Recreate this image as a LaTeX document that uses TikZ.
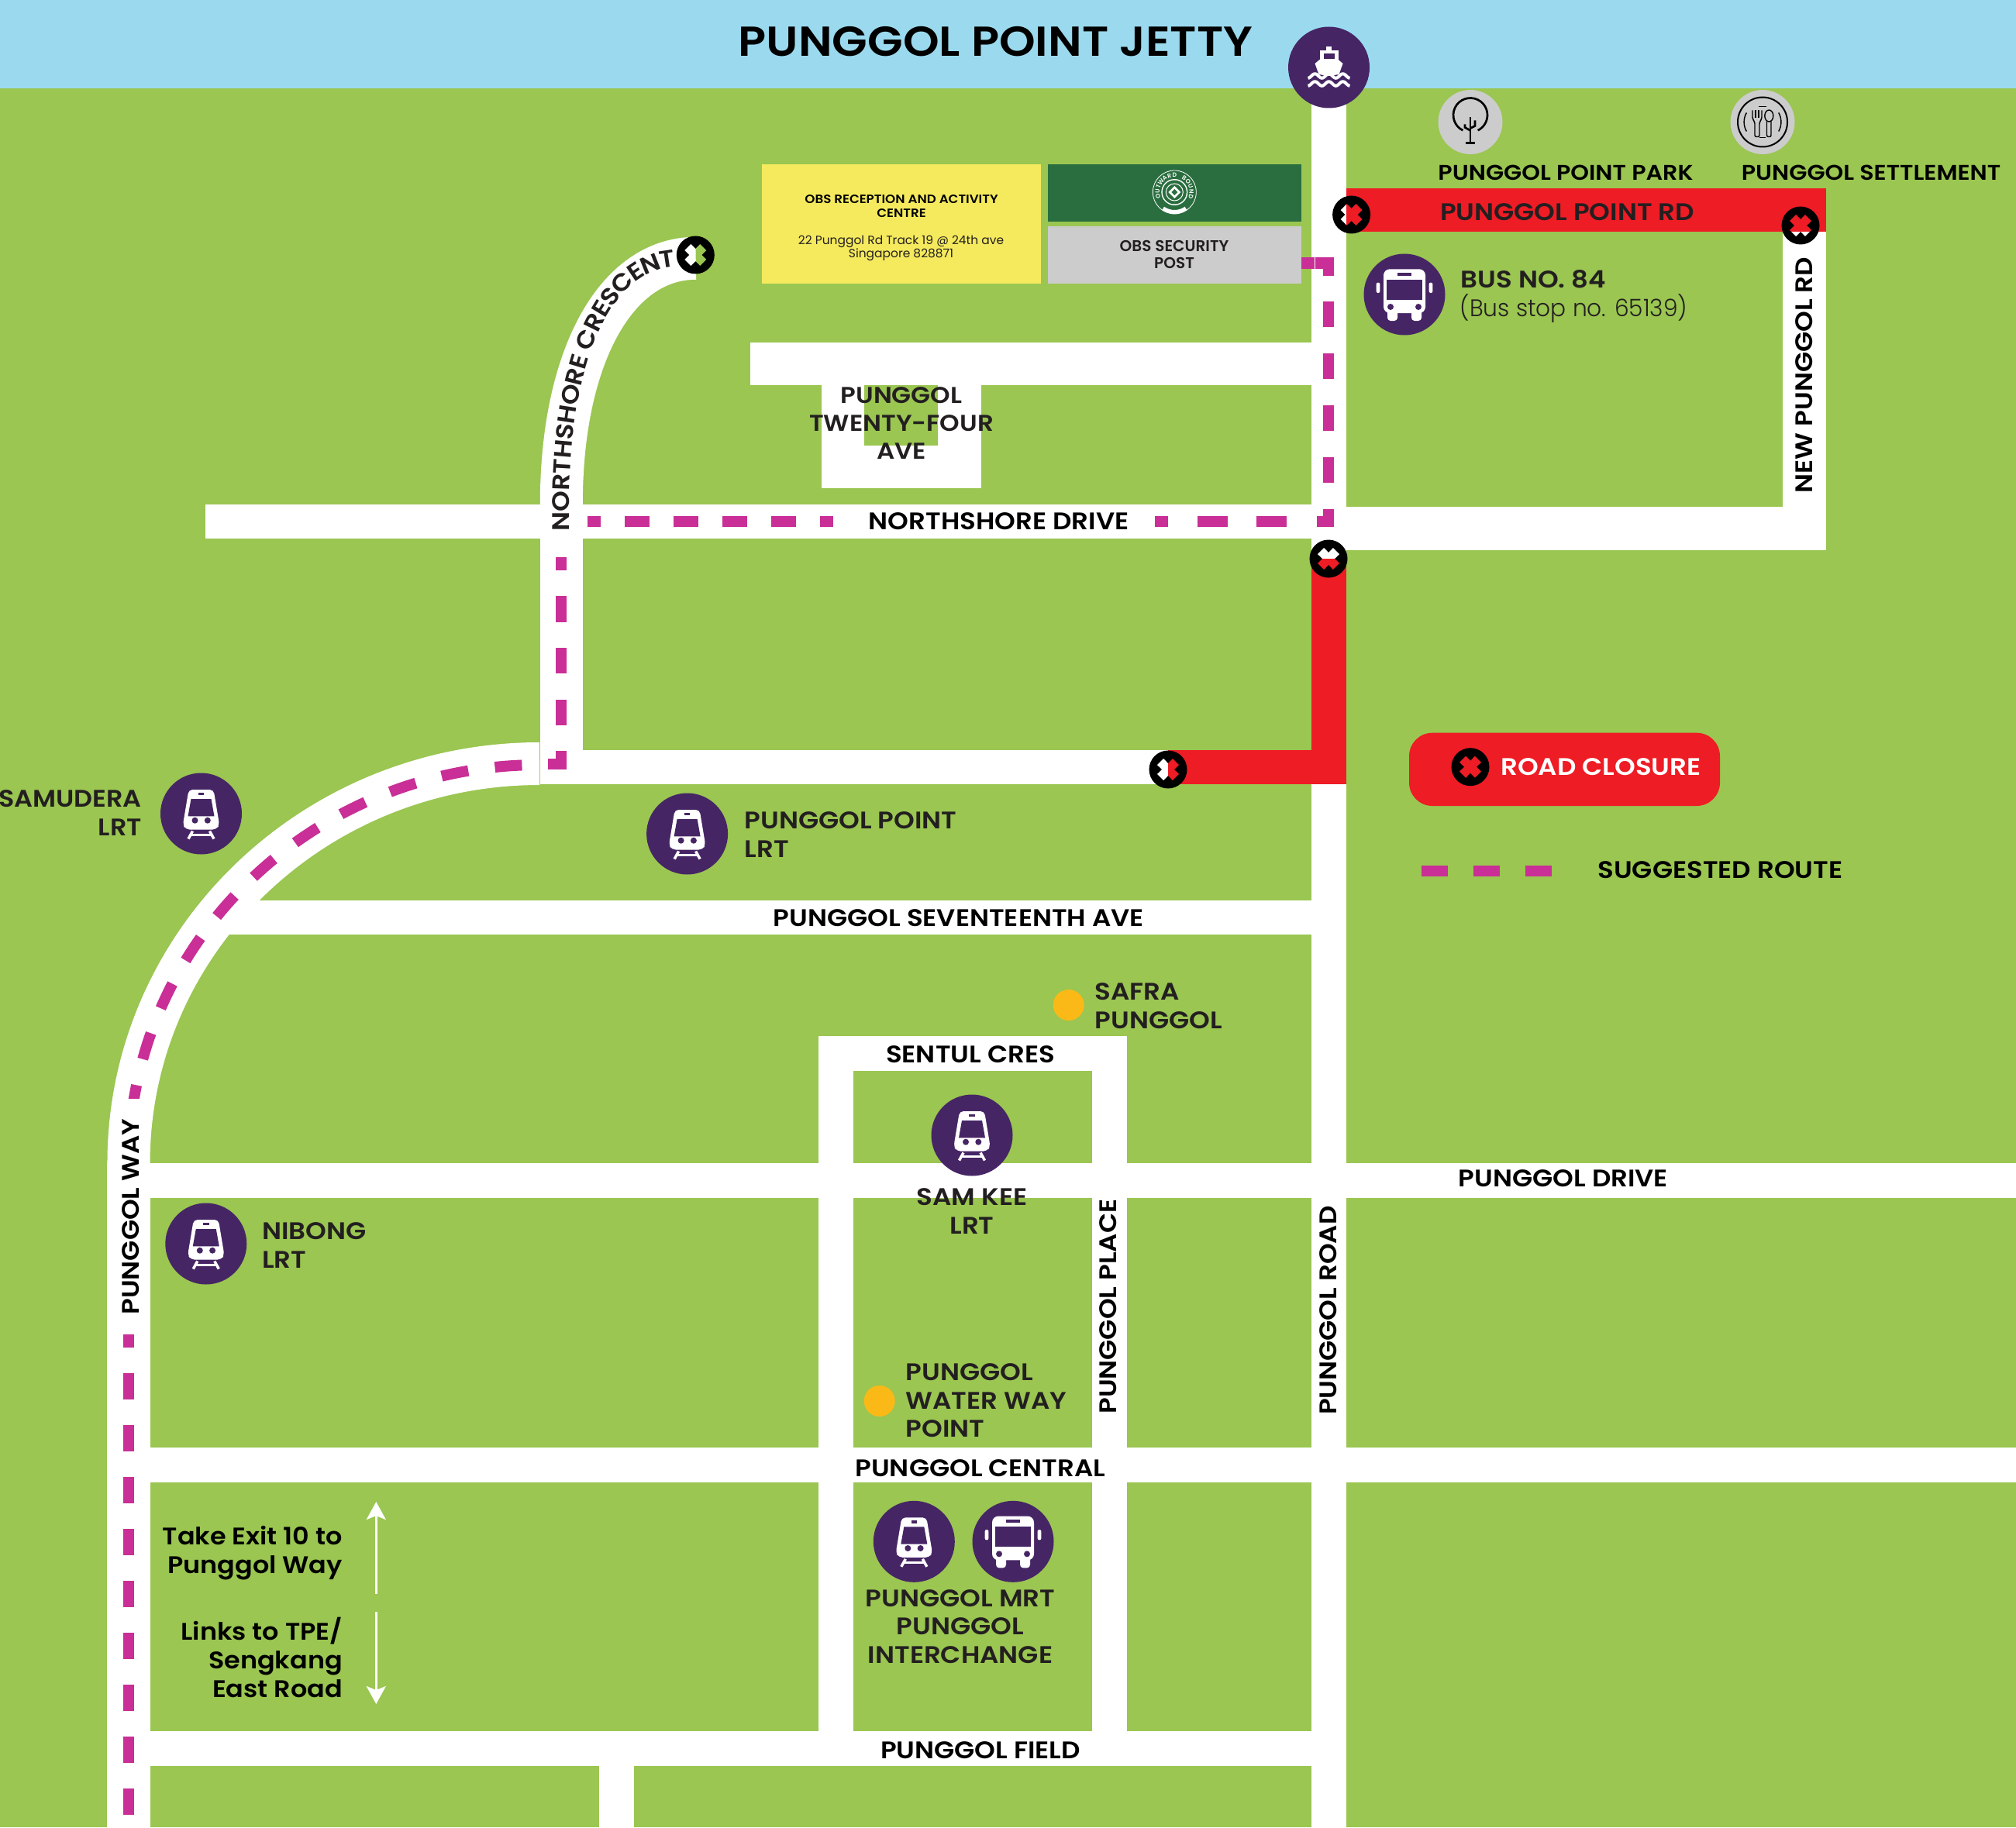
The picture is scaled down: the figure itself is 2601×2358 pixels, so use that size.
\documentclass[tikz,border=0pt]{standalone}
\usepackage{fontspec}
\setmainfont[BoldFont={Poppins SemiBold}]{Poppins}
\newfontfamily\widefont[FakeStretch=1.10,BoldFont={Poppins SemiBold}]{Poppins}
\newfontfamily\guidefont[FakeStretch=1.08,BoldFont={Poppins SemiBold}]{Poppins}
\newfontfamily\thinfont[FakeStretch=.96]{Poppins Light}
\usetikzlibrary{arrows.meta,decorations.text}

\definecolor{skyblue}{HTML}{9BDAEE}
\definecolor{mapgreen}{HTML}{9AC651}
\definecolor{closedred}{HTML}{EE1C25}
\definecolor{stopviolet}{HTML}{462565}
\definecolor{routepink}{HTML}{C92F96}
\definecolor{inkdark}{HTML}{231F20}
\definecolor{notegrey}{HTML}{CCCCCC}
\definecolor{obsgreen}{HTML}{2A6E3F}
\definecolor{obsyellow}{HTML}{F5EA5D}
\definecolor{dotamber}{HTML}{FBB917}

\newcommand{\capsfont}{\widefont\fontsize{8.8}{10.4}\selectfont\bfseries}
\newcommand{\parkfont}{\widefont\fontsize{7.8}{9}\selectfont\bfseries}

\tikzset{
  road/.style={fill=white},
  route/.style={draw=routepink,line width=.14cm},
  roadname/.style={font=\capsfont,text=black,inner sep=0pt,align=center},
  placename/.style={font=\capsfont,text=inkdark,inner sep=0pt},
  guidetext/.style={font=\guidefont\fontsize{8.8}{10.4}\selectfont\bfseries,text=black,inner sep=0pt,align=right,anchor=east},
  guidearrow/.style={->,white,line width=.03cm,>={Stealth[length=.23cm,width=.25cm,inset=.05cm]}}
}

% black disc, the cross is a hole in it
\newcommand{\closure}[2]{
  \begin{scope}[shift={(#1,#2)}]
    \fill[black,even odd rule] (0,0) circle (24.5)
      (0,-8.2)--(5.9,-14.2)--(14.2,-5.9)--(8.2,0)--(14.2,5.9)--(5.9,14.2)--(0,8.2)
      --(-5.9,14.2)--(-14.2,5.9)--(-8.2,0)--(-14.2,-5.9)--(-5.9,-14.2)--cycle;
  \end{scope}
}

\newcommand{\lrtstop}[2]{
  \begin{scope}[shift={(#1,#2)}]
    \fill[stopviolet] (0,0) circle (52.5);
    \fill[white,rounded corners=.05cm] (-16,-31)--(16,-31)--(23.5,14)--(20,20.5)--(-20,20.5)--(-23.5,14)--cycle;
    \fill[stopviolet] (-13,-19)--(13,-19)--(17,3.3)--(-17,3.3)--cycle;
    \fill[stopviolet] (-3.8,-27) rectangle (3.8,-23.7);
    \fill[stopviolet] (-8,8.7) circle (4) (8.3,8.7) circle (4);
    \draw[white,line width=.035cm] (-11,22.5)--(-16.5,32.5) (11,22.5)--(16.5,32.5);
    \draw[white,line width=.03cm] (-13.5,27.5)--(13.5,27.5);
  \end{scope}
}

\newcommand{\busstop}[2]{
  \begin{scope}[shift={(#1,#2)}]
    \fill[stopviolet] (0,0) circle (52.5);
    \fill[white,rounded corners=.08cm] (-27,-32.7) rectangle (27,24);
    \fill[white,rounded corners=.04cm] (-22,15) rectangle (-9,34) (9,15) rectangle (22,34);
    \fill[white,rounded corners=.02cm] (-36.3,-15.3) rectangle (-31.7,-2) (31.7,-15.3) rectangle (36.3,-2);
    \fill[stopviolet] (-22.7,-19.3) rectangle (22.7,6.7);
    \fill[stopviolet] (-8.7,-28.3) rectangle (8.7,-24.3);
    \fill[stopviolet] (-18,16) circle (4) (18,16) circle (4);
  \end{scope}
}

\begin{document}
\begin{tikzpicture}[x=.01cm,y=-.01cm]

  \useasboundingbox (0,0) rectangle (2601,2358);
  \fill[mapgreen] (0,0) rectangle (2601,2358);
  \fill[skyblue] (0,0) rectangle (2601,114);

  % roads
  \fill[road] (1692,114) rectangle (1737,2358);
  \fill[road] (968,441.5) rectangle (1692,497);
  \fill[road] (1060,441.5) rectangle (1266,630);
  \fill[mapgreen] (1115,497) rectangle (1210,575);
  \fill[road] (265,651) rectangle (1692,695);
  \fill[road] (1737,654) rectangle (2356,710);
  \fill[road] (2300,299) rectangle (2356,710);
  \fill[road] (696.7,650) rectangle (752,1012);
  \fill[road] (696.7,967.5) rectangle (1507,1012);
  \fill[road] (280,1162) rectangle (1692,1206);
  \fill[road] (166,1501) rectangle (2601,1545.5);
  \fill[road] (166,1868) rectangle (2601,1913);
  \fill[road] (166,2234) rectangle (1692,2279);
  \fill[road] (1056,1337) rectangle (1454,1382);
  \fill[road] (1056,1337) rectangle (1101,2279);
  \fill[road] (1408.7,1337) rectangle (1454,2279);
  \fill[road] (773,2279) rectangle (818,2358);
  \fill[road] (138,1501) rectangle (193.5,2358);
  \draw[white,line width=.55cm] (166,1501) arc[start angle=180,end angle=270,x radius=530,y radius=515.5];
  \draw[white,line width=.55cm] (724.3,650) .. controls (724.3,463.3) and (793.3,333.3) .. (897.7,333.3);

  % closed parts
  \fill[closedred] (1737,243) rectangle (2356,299);
  \fill[closedred] (1692,721) rectangle (1737,1012);
  \fill[closedred] (1507,967.5) rectangle (1737,1012);

  % suggested route
  \draw[route] (1678.6,339.5)--(1696,339.5);
  \draw[route] (1697.4,339.5)--(1714.4,339.5)--(1714.4,356);
  \foreach \y in {389,456,522.5,590}
  {
    \draw[route] (1714.4,\y)--(1714.4,\y+33.3);
  }
  \draw[route] (1714.4,656.6)--(1714.4,673)--(1698.5,673);
  \foreach \x in {1545,1621}
  {
    \draw[route] (\x,673)--(\x+39,673);
  }
  \draw[route] (1490,673)--(1507,673);
  \foreach \x in {806.3,869.3,932.3,995}
  {
    \draw[route] (\x,673)--(\x+32,673);
  }
  \draw[route] (758,673)--(775,673);
  \draw[route] (1058.3,673)--(1075,673);
  \draw[route] (724.3,719.3)--(724.3,736);
  \foreach \y in {769.3,836,902.7}
  {
    \draw[route] (724.3,\y)--(724.3,\y+33.3);
  }
  \draw[route] (724.3,969.3)--(724.3,985.7)--(707.3,985.7);
  \begin{scope}
    \clip (0,0) rectangle (2601,1417);
    \draw[route,dash pattern=on .35cm off .346cm,dash phase=.47cm] (696,987) .. controls (403.3,987) and (166,1216.3) .. (166,1501);
  \end{scope}
  \draw[route] (166,1722)--(166,1739);
  \foreach \y in {1772,1839,...,2308}
  {
    \draw[route] (166,\y)--(166,\y+33.5);
  }

  % title and jetty
  \node[font=\widefont\fontsize{15.35}{16}\selectfont\bfseries,text=black,inner sep=0pt] (jettytitle) at (1284.5,54) {PUNGGOL POINT JETTY};
  \begin{scope}[shift={(1714.5,87)}]
    \fill[stopviolet] (0,0) circle (52.5);
    \fill[white] (-3.5,-27) rectangle (3.5,-21);
    \fill[white] (-12,-22) rectangle (12,-8);
    \fill[stopviolet] (-7,-17.5) rectangle (7,-11);
    \fill[white] (-18,-5)--(-12,-10)--(12,-10)--(18,-5)--(13,9)--(0,11)--(-13,9)--cycle;
    \foreach \w in {11,21}
    {
      \draw[white,line width=.04cm] plot[domain=-27:27,samples=40,smooth] (\x,{\w+2.8*cos(\x*20+180)});
    }
  \end{scope}

  % buildings
  \fill[obsyellow] (983,211.6) rectangle (1343,366.4);
  \fill[obsgreen] (1352,211.6) rectangle (1678.6,286);
  \fill[notegrey] (1352,292) rectangle (1678.6,366.4);
  \node[font=\guidefont\fontsize{4.4}{5.1}\selectfont\bfseries,text=black,inner sep=0pt,align=center] (obsreception) at (1163,266.5) {OBS RECEPTION AND ACTIVITY\\CENTRE};
  \node[font=\fontsize{4.4}{5}\selectfont,text=inkdark,inner sep=0pt,align=center] (obsaddress) at (1162.5,320.5) {22 Punggol Rd Track 19 @ 24th ave\\Singapore 828871};
  \node[font=\fontsize{5.7}{6.3}\selectfont\bfseries,text=inkdark,inner sep=0pt,align=center] (obssecurity) at (1515,328.5) {OBS SECURITY\\POST};

  \begin{scope}[shift={(1515.3,248)}]
    \fill[white] (0,0) circle (17);
    \draw[white,line width=.05cm] (125:25.5) arc[start angle=125,end angle=55,radius=25.5];
    \draw[white,line width=.008cm] (0,0) circle (28);
    \fill[obsgreen] (0,0) circle (15.5);
    \draw[white,line width=.01cm] (0,0) circle (11);
    \fill[white] (-8,0)--(0,-8)--(8,0)--(0,8)--cycle;
    \fill[obsgreen] (-4,0)--(0,-4)--(4,0)--(0,4)--cycle;
    \foreach \c [count=\i] in {O,U,T,W,A,R,D,{ },B,O,U,N,D}
    {
      \node[font=\fontsize{2.2}{3}\selectfont\bfseries,text=white,inner sep=0pt,rotate={270-(165+(\i-1)*17.5)}] (logoletter\i) at ({165+(\i-1)*17.5}:22) {\c};
    }
  \end{scope}

  % places at the top
  \fill[notegrey] (1897,157.5) circle (41.5);
  \begin{scope}[shift={(1897,157.5)},black,line width=.027cm]
    \draw (116:22) ++(0,-9) arc[start angle=116,end angle=424,radius=22];
    \draw (0,-6)--(0,26.7) (-6,26.7)--(6,26.7);
    \draw (-7,3)--(-7,7)--(0,11) (6,-2)--(6,5)--(0,8);
  \end{scope}
  \fill[notegrey] (2274,157.5) circle (41.5);
  \begin{scope}[shift={(2274,157.5)},black,line width=.014cm]
    \draw[line width=.02cm] (0,0) circle (32);
    \draw (20.7,-12) arc[start angle=-30,end angle=30,radius=24];
    \draw (-20.7,-12) arc[start angle=210,end angle=150,radius=24];
    \draw (-5,-20)--(5,-20) (-4,20)--(4,20);
    \draw[rounded corners=.02cm] (-13,-15)--(-13,-4)--(-10,0)--(-10,19)--(-4,19)--(-4,0)--(-1,-4)--(-1,-15);
    \draw (-9,-15)--(-9,-5) (-5,-15)--(-5,-5);
    \draw (8.3,-8) ellipse (5.5 and 7.5);
    \draw[rounded corners=.02cm] (5.5,-1)--(5.5,19)--(11,19)--(11,-1);
  \end{scope}
  \node[font=\parkfont,text=black,inner sep=0pt] (parkname) at (2020,223) {PUNGGOL POINT PARK};
  \node[font=\parkfont,text=black,inner sep=0pt] (settlementname) at (2414,222.7) {PUNGGOL SETTLEMENT};
  \node[placename] (pointrdname) at (2022,274) {PUNGGOL POINT RD};

  \busstop{1812}{380}
  \node[placename,anchor=west] (busname) at (1884,360.5) {BUS NO. 84};
  \node[font=\thinfont\fontsize{8.8}{10}\selectfont,text=inkdark,inner sep=0pt,anchor=west] (bussign) at (1883,398.5) {(Bus stop no. 65139)};

  % road names
  \node[roadname,rotate=90] (newpunggolname) at (2327.7,484) {NEW PUNGGOL RD};
  \node[placename,font=\widefont\fontsize{8.4}{10.3}\selectfont\bfseries,align=center] (twentyfourname) at (1163,546) {PUNGGOL\\TWENTY-FOUR\\AVE};
  \node[roadname] (drivename) at (1288.6,673) {NORTHSHORE DRIVE};
  \node[roadname] (seventeenname) at (1237,1184.5) {PUNGGOL SEVENTEENTH AVE};
  \node[roadname] (sentulname) at (1252,1361) {SENTUL CRES};
  \node[roadname] (pdrivename) at (2017,1521) {PUNGGOL DRIVE};
  \node[roadname] (centralname) at (1265,1895) {PUNGGOL CENTRAL};
  \node[roadname] (fieldname) at (1265,2258.7) {PUNGGOL FIELD};
  \node[roadname,rotate=90] (wayname) at (169,1570) {PUNGGOL WAY};
  \node[roadname,rotate=90] (placename) at (1430,1686) {PUNGGOL PLACE};
  \node[roadname,rotate=90] (roadname) at (1713.7,1691) {PUNGGOL ROAD};
  \path[decorate,decoration={text along path,raise=-.103cm,text={|\capsfont\color{inkdark}|NORTHSHORE CRESCENT}}]
    (724.3,685)--(724.3,650) .. controls (724.3,463.3) and (780,336) .. (873,334);

  % stops
  \lrtstop{259.5}{1050}
  \node[placename,font=\guidefont\fontsize{8.8}{10.4}\selectfont\bfseries,align=right,anchor=east] (samuderaname) at (183.5,1049) {SAMUDERA\\LRT};
  \lrtstop{886.6}{1076}
  \node[placename,align=left,anchor=west] (pointlrtname) at (960,1077) {PUNGGOL POINT\\LRT};
  \lrtstop{265.8}{1605}
  \node[placename,align=left,anchor=west] (nibongname) at (337.5,1607) {NIBONG\\LRT};
  \lrtstop{1254}{1465}
  \node[placename,align=center] (samkeename) at (1254,1563) {SAM KEE\\LRT};
  \lrtstop{1179.3}{1989.3}
  \busstop{1307}{1989.3}
  \node[placename,align=center] (mrtname) at (1239,2099) {PUNGGOL MRT\\PUNGGOL\\INTERCHANGE};

  \fill[dotamber] (1378.7,1297) circle (20);
  \node[placename,align=left,anchor=west] (safraname) at (1412,1298) {SAFRA\\PUNGGOL};
  \fill[dotamber] (1134.7,1808) circle (20);
  \node[placename,align=left,anchor=west] (waterwayname) at (1168,1807.5) {PUNGGOL\\WATER WAY\\POINT};

  % exits
  \node[guidetext] (exitname) at (442.5,2004) {Take Exit 10 to\\Punggol Way};
  \node[guidetext] (linksname) at (442.5,2139) {Links to TPE/\\Sengkang\\East Road};
  \coordinate (exitfoot) at (485.3,2057);
  \coordinate (exithead) at (485.3,1938);
  \coordinate (linksfoot) at (485.3,2080);
  \coordinate (linkshead) at (485.3,2199);
  \draw[guidearrow] (exitfoot)--(exithead);
  \draw[guidearrow] (linksfoot)--(linkshead);

  % legend
  \fill[closedred,rounded corners=.3cm] (1818,945.7) rectangle (2219,1040);
  \node[font=\capsfont,text=white,inner sep=0pt] (closurename) at (2065.5,990) {ROAD CLOSURE};
  \foreach \x in {1834,1901,1968}
  {
    \draw[route] (\x,1123.7)--(\x+33.5,1123.7);
  }
  \node[font=\capsfont,text=black,inner sep=0pt,anchor=west] (routename) at (2060.7,1123) {SUGGESTED ROUTE};

  % closures on top, the road shows through them
  \closure{897.3}{329}
  \closure{1743.6}{277}
  \closure{2323}{291}
  \closure{1714}{721}
  \closure{1507}{993}
  \closure{1897}{989.7}

\end{tikzpicture}
\end{document}
